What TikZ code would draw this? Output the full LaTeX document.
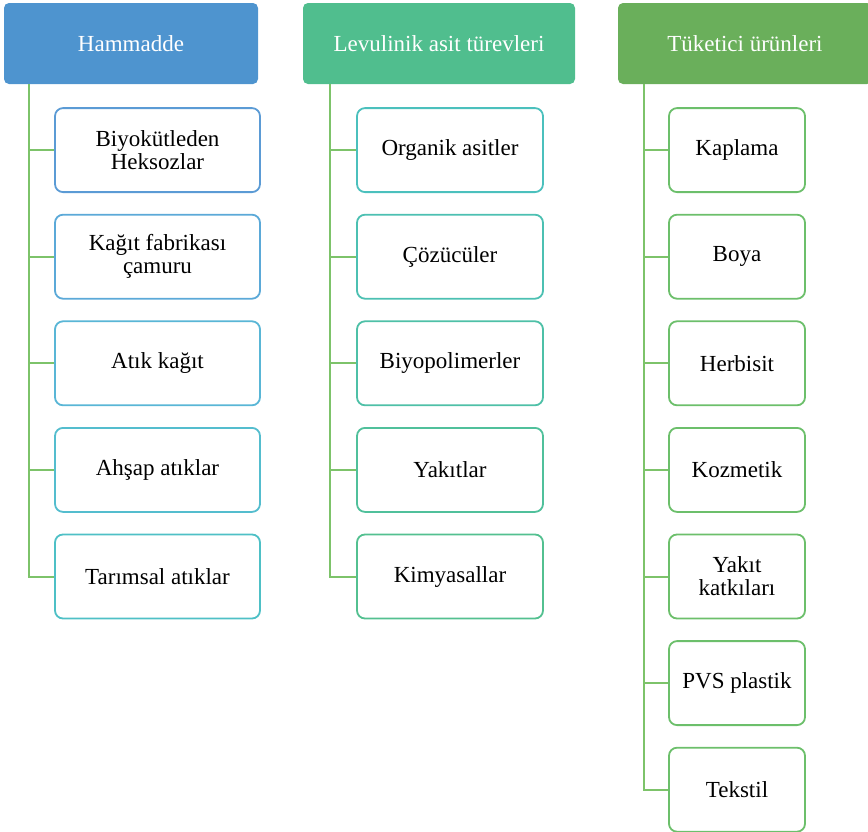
\documentclass[tikz,border=0pt]{standalone}
\usepackage{fontspec}
\setmainfont{Liberation Serif}
\usetikzlibrary{positioning}
\definecolor{hamblue}{HTML}{4E94CF}
\definecolor{levgreen}{HTML}{50BE8E}
\definecolor{tukgreen}{HTML}{6AAF5B}
\definecolor{linkgreen}{HTML}{7DC36A}
\definecolor{ha}{HTML}{5B9BD5}
\definecolor{hb}{HTML}{5BA9D8}
\definecolor{hc}{HTML}{59B6D6}
\definecolor{hd}{HTML}{54BDCE}
\definecolor{he}{HTML}{4EC0C6}
\definecolor{la}{HTML}{4BC0BD}
\definecolor{lb}{HTML}{4CC0B2}
\definecolor{lc}{HTML}{4EC0A7}
\definecolor{ld}{HTML}{50C09B}
\definecolor{le}{HTML}{53C090}
\definecolor{tk}{HTML}{6CBF6B}
\tikzstyle{header} = [rectangle, rounded corners=5pt, minimum height=81pt, text centered, text=white, font=\fontsize{23}{24}\selectfont]
\tikzstyle{item} = [rectangle, rounded corners=8pt, minimum height=84pt, align=center, line width=1.8pt, fill=white, font=\fontsize{23}{23}\selectfont]
\tikzstyle{link} = [line width=2pt, draw=linkgreen]

\begin{document}
\begin{tikzpicture}[x=1pt, y=-1pt, node distance=106.6pt]
\useasboundingbox (0,0) rectangle (868,831);

% Hammadde
\node (ham) [header, fill=hamblue, minimum width=254pt] at (131,43.5) {Hammadde};
\node (ham1) [item, draw=ha, minimum width=205pt, below of=ham, xshift=26.5pt] {Biyokütleden\\Heksozlar};
\node (ham2) [item, draw=hb, minimum width=205pt, below of=ham1] {Kağıt fabrikası\\çamuru};
\node (ham3) [item, draw=hc, minimum width=205pt, below of=ham2] {Atık kağıt};
\node (ham4) [item, draw=hd, minimum width=205pt, below of=ham3] {Ahşap atıklar};
\node (ham5) [item, draw=he, minimum width=205pt, below of=ham4] {Tarımsal atıklar};

% Levulinik asit
\node (lev) [header, fill=levgreen, minimum width=272pt] at (439,43.5) {Levulinik asit türevleri};
\node (lev1) [item, draw=la, minimum width=186pt, below of=lev, xshift=11pt] {Organik asitler};
\node (lev2) [item, draw=lb, minimum width=186pt, below of=lev1] {Çözücüler};
\node (lev3) [item, draw=lc, minimum width=186pt, below of=lev2] {Biyopolimerler};
\node (lev4) [item, draw=ld, minimum width=186pt, below of=lev3] {Yakıtlar};
\node (lev5) [item, draw=le, minimum width=186pt, below of=lev4] {Kimyasallar};

% Tuketici urunleri
\node (tuk) [header, fill=tukgreen, minimum width=254pt] at (745,43.5) {Tüketici ürünleri};
\node (tuk1) [item, draw=tk, minimum width=136pt, below of=tuk, xshift=-8pt] {Kaplama};
\node (tuk2) [item, draw=tk, minimum width=136pt, below of=tuk1] {Boya};
\node (tuk3) [item, draw=tk, minimum width=136pt, below of=tuk2] {Herbisit};
\node (tuk4) [item, draw=tk, minimum width=136pt, below of=tuk3] {Kozmetik};
\node (tuk5) [item, draw=tk, minimum width=136pt, below of=tuk4] {Yakıt\\katkıları};
\node (tuk6) [item, draw=tk, minimum width=136pt, below of=tuk5] {PVS plastik};
\node (tuk7) [item, draw=tk, minimum width=136pt, below of=tuk6] {Tekstil};

% Links
\foreach \i in {1,...,5} {
  \draw [link] ([xshift=25pt]ham.south west) |- (ham\i.west);
  \draw [link] ([xshift=27pt]lev.south west) |- (lev\i.west);
}
\foreach \i in {1,...,7} {
  \draw [link] ([xshift=26pt]tuk.south west) |- (tuk\i.west);
}

\end{tikzpicture}
\end{document}
